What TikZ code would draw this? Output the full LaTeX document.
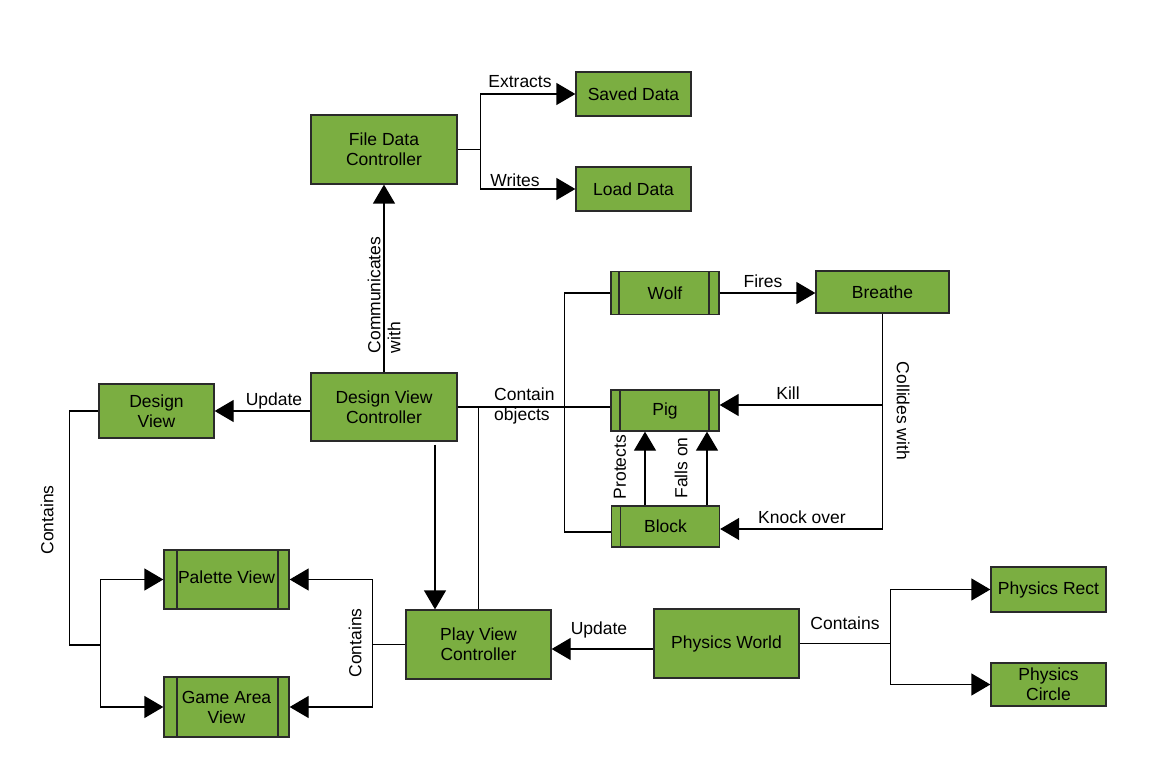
\documentclass[tikz,border=0pt]{standalone}
\usepackage{fontspec}
\setmainfont{Liberation Sans}
\usetikzlibrary{arrows.meta,calc}
\definecolor{boxgreen}{HTML}{7BAE41}
\definecolor{edgegray}{HTML}{2A2A2A}
\begin{document}
\begin{tikzpicture}[x=1pt,y=-1pt,
  every node/.style={font=\fontsize{17.5}{20}\selectfont, inner sep=0pt},
  box/.style={draw=edgegray, fill=boxgreen, line width=1.3pt, align=center},
  % process box with a bar inside the left edge only
  lbar/.style={path picture={\draw[edgegray, line width=1.1pt]
      ($(path picture bounding box.north west)+(#1,0)$) --
      ($(path picture bounding box.south west)+(#1,0)$);}},
  % process box with bars inside both side edges
  lrbar/.style 2 args={path picture={\draw[edgegray, line width=1.1pt]
      ($(path picture bounding box.north west)+(#1,0)$) --
      ($(path picture bounding box.south west)+(#1,0)$)
      ($(path picture bounding box.north east)+(-#2,0)$) --
      ($(path picture bounding box.south east)+(-#2,0)$);}},
  conn/.style={draw=black, line width=1.3pt},
  arr/.style={conn, -{Triangle[length=19pt,width=22pt]}},
  lbl/.style={inner sep=0pt}]
\useasboundingbox (0,0) rectangle (1162,775);

% boxes
\node[box, minimum width=146pt, minimum height=69pt] (fdc) at (384,149.5) {File Data\\Controller};
\node[box, minimum width=115pt, minimum height=44pt] (saved) at (633.5,94) {Saved Data};
\node[box, minimum width=115pt, minimum height=44pt] (load) at (633.5,189) {Load Data};
\node[box, lrbar={8}{10}, minimum width=108pt, minimum height=43pt] (wolf) at (665,293) {Wolf};
\node[box, minimum width=133pt, minimum height=42pt] (breathe) at (882.5,292) {Breathe};
\node[box, lrbar={9}{10}, minimum width=108pt, minimum height=41pt] (pig) at (665,410.5) {Pig};
\node[box, lbar=9, minimum width=108pt, minimum height=41pt] (block) at (665.5,526.5) {Block};
\node[box, minimum width=115pt, minimum height=54pt] (dv) at (156.5,411) {Design\\View};
\node[box, minimum width=146pt, minimum height=68pt] (dvc) at (384,407) {Design View\\Controller};
\node[box, lrbar={13}{11}, minimum width=125pt, minimum height=59pt] (palette) at (226.5,579.5) {\raisebox{4pt}{Palette View}};
\node[box, lrbar={13}{11}, minimum width=125pt, minimum height=60pt] (game) at (226.5,707) {Game Area\\View};
\node[box, minimum width=145pt, minimum height=69pt] (pvc) at (478.5,644.5) {Play View\\Controller};
\node[box, minimum width=145pt, minimum height=69pt] (pw) at (726.5,643.5) {Physics World};
\node[box, minimum width=115pt, minimum height=45pt] (prect) at (1048.5,589.5) {Physics Rect};
\node[box, minimum width=115pt, minimum height=43pt] (pcirc) at (1048.5,684.5) {Physics\\Circle};

% file controller fan-out
\draw[conn] (fdc.east) -- ++(23,0) coordinate (fj);
\draw[arr] (fj) |- (saved.west);
\draw[arr] (fj) |- (load.west);
\draw[arr] (dvc.north) -- (fdc.south);

% design view controller links
\draw[arr] (dvc.west |- dv.east) -- (dv.east);
\draw[conn] (dvc.east) -- (dvc.east -| pig.west);
\coordinate (cbus) at (564.5,532);
\draw[conn] (wolf.west) -| (cbus) -- (cbus -| block.west);
\coordinate (dtop) at ($(dvc.south)+(51,3)$);
\draw[arr] (dtop) -- (dtop |- pvc.north);
\draw[conn] (pvc.north) -- (pvc.north |- dvc.east);

% view containment
\coordinate (lbus) at (69.5,645);
\draw[conn] (dv.west) -| (lbus) -- ++(31,0) coordinate (lj);
\draw[arr] (lj) |- (palette.west);
\draw[arr] (lj) |- (game.west);
\draw[conn] (pvc.west) -- ++(-33,0) coordinate (rj);
\draw[arr] (rj) |- (palette.east);
\draw[arr] (rj) |- (game.east);

% physics
\coordinate (pwu) at ($(pw.west)+(0,5.5)$);
\draw[arr] (pwu) -- (pwu -| pvc.east);
\draw[conn] (pw.east) -- ++(91,0) coordinate (pj);
\draw[arr] (pj) |- (prect.west);
\draw[arr] (pj) |- (pcirc.west);

% game objects
\draw[arr] (wolf.east) -- (wolf.east -| breathe.west);
\coordinate (kb) at ($(block.east)+(0,2.5)$);
\draw[arr] (breathe.south) |- (kb);
\coordinate (kp) at ($(pig.east)+(0,-5.5)$);
\draw[arr] (kp -| breathe.south) -- (kp);
\coordinate (bp1) at ($(block.north)+(-20.5,0)$);
\draw[arr] (bp1) -- (bp1 |- pig.south);
\coordinate (bp2) at ($(block.north)+(41.5,0)$);
\draw[arr] (bp2) -- (bp2 |- pig.south);

% labels
\node[lbl] (lextract) at (520,82) {Extracts};
\node[lbl] (lwrite) at (515,180) {Writes};
\node[lbl, rotate=90, align=left] (lcomm) at (384,295) {Communicates\\with};
\node[lbl] (lupd1) at (274,401) {Update};
\node[lbl, anchor=west, align=left] (lcontain) at (494,406) {Contain\\objects};
\node[lbl, rotate=90] (lcont1) at (47,520) {Contains};
\node[lbl, rotate=90] (lcont2) at (355,643) {Contains};
\node[lbl] (lupd2) at (599,630) {Update};
\node[lbl] (lcont3) at (845,623) {Contains};
\node[lbl] (lfires) at (763,281) {Fires};
\node[lbl] (lkill) at (788,393) {Kill};
\node[lbl] (lknock) at (802,517) {Knock over};
\node[lbl, rotate=-90] (lcoll) at (903,411) {Collides with};
\node[lbl, rotate=90] (lprot) at (620,467) {Protects};
\node[lbl, rotate=90] (lfalls) at (681,468) {Falls on};
\end{tikzpicture}
\end{document}
